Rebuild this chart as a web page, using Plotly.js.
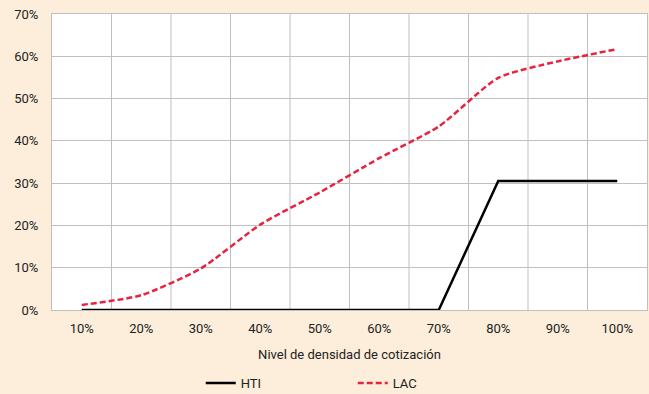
<!DOCTYPE html>
<html>
<head>
<meta charset="utf-8">
<script src="https://cdn.plot.ly/plotly-3.0.1.min.js"></script>
<style>
html,body{margin:0;padding:0;background:#FDEEDB;}
#chart{width:649px;height:394px;}
</style>
</head>
<body>
<div id="chart"></div>
<script>
const categories = ["10%","20%","30%","40%","50%","60%","70%","80%","90%","100%"];
const hti = [0, 0, 0, 0, 0, 0, 0, 0.305, 0.305, 0.305];
const lac = [0.012, 0.035, 0.098, 0.202, 0.278, 0.359, 0.434, 0.549, 0.588, 0.617];
const yTickVals = [0, 0.1, 0.2, 0.3, 0.4, 0.5, 0.6, 0.7];
const yTickText = ["0%","10%","20%","30%","40%","50%","60%","70%"];

const FONT = '"Liberation Sans Narrow", "Roboto", "DejaVu Sans Condensed", sans-serif';
const BG = '#FDEEDB';

const traces = [
  {
    x: categories, y: hti, name: 'HTI', type: 'scatter', mode: 'lines',
    line: {color: '#000000', width: 2.5}
  },
  {
    x: categories, y: lac, name: 'LAC', type: 'scatter', mode: 'lines',
    line: {color: '#E8223F', width: 2.5, dash: '6px,3px', shape: 'spline', smoothing: 0.6}
  }
];

const layout = {
  width: 649, height: 394,
  paper_bgcolor: BG, plot_bgcolor: '#FFFFFF',
  margin: {l: 52, r: 2, t: 14, b: 84, autoexpand: false},
  font: {family: FONT, size: 13, color: '#222222'},
  showlegend: true,
  legend: {
    orientation: 'h', x: 0.25, xanchor: 'left',
    yref: 'container', y: 0.028, yanchor: 'middle',
    font: {family: FONT, size: 13, color: '#222222'},
    bgcolor: 'rgba(0,0,0,0)', entrywidth: 107, entrywidthmode: 'pixels', tracegroupgap: 0
  },
  xaxis: {
    type: 'category',
    range: [-0.5, categories.length - 0.5],
    showgrid: false,
    showline: true, linecolor: '#BFBFBF', linewidth: 1, mirror: true,
    ticks: 'outside', ticklen: 6, tickcolor: 'rgba(0,0,0,0)',
    tickfont: {family: FONT, size: 13, color: '#222222'},
    title: {text: 'Nivel de densidad de cotización', font: {family: FONT, size: 13, color: '#222222'}, standoff: 15},
    automargin: false,
    fixedrange: true
  },
  yaxis: {
    range: [0, 0.7],
    tickvals: yTickVals, ticktext: yTickText,
    showgrid: true, gridcolor: '#BFBFBF', gridwidth: 1,
    showline: true, linecolor: '#BFBFBF', linewidth: 1, mirror: true,
    zeroline: false,
    ticks: 'outside', ticklen: 10, tickcolor: 'rgba(0,0,0,0)',
    tickfont: {family: FONT, size: 13, color: '#222222'},
    automargin: false,
    fixedrange: true
  },
  shapes: []
};

// vertical gridlines at category boundaries (Excel style)
for (let i = 0; i < categories.length - 1; i++) {
  layout.shapes.push({
    type: 'line', xref: 'x', yref: 'paper',
    x0: i + 0.5, x1: i + 0.5, y0: 0, y1: 1,
    line: {color: '#BFBFBF', width: 1}, layer: 'below'
  });
}

Plotly.newPlot('chart', traces, layout, {displayModeBar: false, staticPlot: true});
</script>
</body>
</html>
